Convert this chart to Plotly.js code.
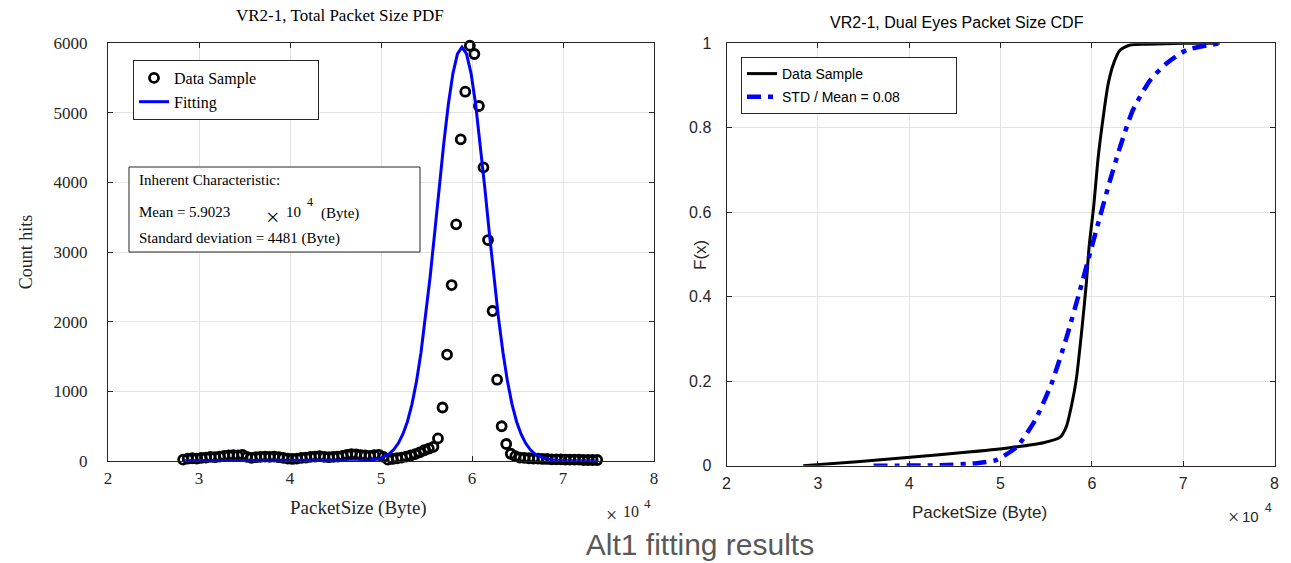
<!DOCTYPE html>
<html>
<head>
<meta charset="utf-8">
<script src="https://cdn.plot.ly/plotly-3.0.1.min.js"></script>
<style>html,body{margin:0;padding:0;background:#fff;}#chart{width:1291px;height:563px;}</style>
</head>
<body>
<div id="chart"></div>
<script>
// ---- PDF data sample (bin centres, x10^4 Byte) ----
const pdfX = [2.826,2.876,2.926,2.976,3.026,3.076,3.126,3.176,3.226,3.276,3.326,3.376,3.426,3.476,3.526,3.576,3.626,3.676,3.726,3.776,3.826,3.876,3.926,3.976,4.026,4.076,4.126,4.176,4.226,4.276,4.326,4.376,4.426,4.476,4.526,4.576,4.626,4.676,4.726,4.776,4.826,4.876,4.926,4.976,5.026,5.076,5.126,5.176,5.226,5.276,5.326,5.376,5.426,5.476,5.526,5.576,5.626,5.676,5.726,5.776,5.826,5.876,5.926,5.976,6.026,6.076,6.126,6.176,6.226,6.276,6.326,6.376,6.426,6.476,6.526,6.576,6.626,6.676,6.726,6.776,6.826,6.876,6.926,6.976,7.026,7.076,7.126,7.176,7.226,7.276,7.326,7.376];
const pdfCount = [15,30,35,30,40,45,55,50,60,70,75,80,75,85,55,40,50,55,60,55,60,50,40,30,25,30,40,45,55,60,65,55,50,55,60,70,85,95,90,80,75,70,80,85,55,15,25,35,45,60,75,95,120,150,175,200,320,765,1525,2525,3398,4620,5304,5965,5846,5099,4217,3172,2152,1164,495,240,100,65,45,40,35,30,30,25,25,20,20,20,15,15,15,15,10,10,10,10];

// ---- PDF fitting curve ----
const fitX = [2.83,3.5,4.0,4.5,4.79,4.89,4.99,5.09,5.14,5.19,5.24,5.29,5.34,5.39,5.44,5.49,5.54,5.59,5.64,5.69,5.74,5.79,5.84,5.89,5.94,5.99,6.04,6.09,6.14,6.19,6.24,6.29,6.34,6.39,6.44,6.49,6.54,6.59,6.64,6.69,6.79,6.89,6.99,7.2,7.38];
const fitY = [0,0,0,0,3,10,35,100,160,250,380,560,810,1140,1560,2064,2645,3279,3933,4563,5124,5565,5848,5945,5848,5565,5124,4563,3933,3279,2645,2064,1560,1140,810,560,380,250,160,100,35,10,3,0,0];

// ---- CDF data sample ----
const cdfX = [2.84,3.43,4.01,4.59,5.10,5.47,5.65,5.72,5.78,5.83,5.89,5.94,5.97,6.02,6.07,6.13,6.18,6.24,6.31,6.42,6.6,7.0,7.4];
const cdfY = [0,0.0095,0.02,0.031,0.0426,0.0545,0.067,0.092,0.145,0.205,0.321,0.432,0.518,0.613,0.731,0.834,0.905,0.953,0.984,0.996,0.998,1.0,1.0];

// ---- CDF fit (STD/Mean = 0.08) ----
const cdfFitX = [3.61,4.34,4.74,4.96,5.18,5.38,5.56,5.725,5.871,5.98,6.09,6.2,6.31,6.45,6.64,6.82,7.04,7.40];
const cdfFitY = [0,0.001,0.006,0.014,0.045,0.108,0.195,0.305,0.416,0.503,0.59,0.676,0.755,0.842,0.913,0.953,0.984,1.0];

const xTicks = [2,3,4,5,6,7,8];
const yTicksL = [0,1000,2000,3000,4000,5000,6000];
const yTicksR = [0,0.2,0.4,0.6,0.8,1];
const yTickTextR = ['0','0.2','0.4','0.6','0.8','1'];

const W = 1291, H = 563;
const px = v => v / W;
const py = v => 1 - v / H;
const pad = n => '\u00a0'.repeat(n);

const serif = 'Liberation Serif, Times New Roman, serif';
const sans = 'Liberation Sans, Arial, sans-serif';
const axCol = '#262626';
const gridCol = '#e3e3e3';

const traces = [
  {x: pdfX, y: pdfCount, xaxis: 'x', yaxis: 'y', type: 'scatter', mode: 'markers', name: 'Data Sample' + pad(14),
   marker: {symbol: 'circle-open', size: 9, color: '#000', line: {width: 2.8, color: '#000'}},
   cliponaxis: false, legend: 'legend', legendgroup: 'a'},
  {x: fitX, y: fitY, xaxis: 'x', yaxis: 'y', type: 'scatter', mode: 'lines', name: 'Fitting',
   line: {color: '#0000ff', width: 3}, cliponaxis: false, legend: 'legend', legendgroup: 'b'},
  {x: cdfX, y: cdfY, xaxis: 'x2', yaxis: 'y2', type: 'scatter', mode: 'lines', name: 'Data Sample',
   line: {color: '#000', width: 3, shape: 'spline', smoothing: 0.6}, cliponaxis: false, legend: 'legend2', legendgroup: 'c'},
  {x: cdfFitX, y: cdfFitY, xaxis: 'x2', yaxis: 'y2', type: 'scatter', mode: 'lines', name: 'STD / Mean = 0.08' + pad(13),
   line: {color: '#0000ff', width: 4.5, dash: '14px,7px,5px,7px', shape: 'spline', smoothing: 0.6}, cliponaxis: false, legend: 'legend2', legendgroup: 'd'}
];

function axisBase(font) {
  return {ticks: 'inside', ticklen: 5, tickcolor: axCol, showline: true, linecolor: axCol, linewidth: 1,
    mirror: 'ticks', showgrid: true, gridcolor: gridCol, gridwidth: 1, zeroline: false,
    tickfont: font, fixedrange: true};
}

function note(text, x, y, font, extra) {
  return Object.assign({text: text, xref: 'paper', yref: 'paper', x: px(x), y: py(y), xanchor: 'center', yanchor: 'middle',
    showarrow: false, font: font}, extra || {});
}

const layout = {
  width: W, height: H,
  margin: {l: 0, r: 0, t: 0, b: 0},
  paper_bgcolor: '#fff', plot_bgcolor: '#fff',
  showlegend: true,
  title: {text: 'Alt1 fitting results', font: {family: sans, size: 30, color: '#595959'},
          x: 700 / W, xanchor: 'center', y: 1 - 544 / H, yanchor: 'middle', yref: 'container', xref: 'container'},
  xaxis: Object.assign(axisBase({family: serif, size: 17, color: axCol}), {
    domain: [px(108), px(654)], range: [2, 8], tickvals: xTicks, anchor: 'y', ticklabelstandoff: 2}),
  yaxis: Object.assign(axisBase({family: serif, size: 17, color: axCol}), {
    domain: [1 - 460.7 / H, 1 - 43.3 / H], range: [0, 6000], tickvals: yTicksL, anchor: 'x', ticklabelstandoff: 16,
    title: {text: 'Count hits', font: {family: serif, size: 18, color: axCol}, standoff: 16}}),
  xaxis2: Object.assign(axisBase({family: sans, size: 16, color: axCol}), {
    domain: [px(726.5), px(1274.5)], range: [2, 8], tickvals: xTicks, anchor: 'y2', ticklabelstandoff: 3}),
  yaxis2: Object.assign(axisBase({family: sans, size: 16, color: axCol}), {
    domain: [1 - 465.7 / H, 1 - 43.3 / H], range: [0, 1], tickvals: yTicksR, ticktext: yTickTextR, anchor: 'x2', ticklabelstandoff: 11}),
  legend: {x: px(133), y: py(60), xanchor: 'left', yanchor: 'top', bgcolor: '#fff', bordercolor: axCol, borderwidth: 1,
    font: {family: serif, size: 16, color: '#000'}, traceorder: 'grouped', tracegroupgap: 0},
  legend2: {x: px(741), y: py(57), xanchor: 'left', yanchor: 'top', bgcolor: '#fff', bordercolor: axCol, borderwidth: 1,
    font: {family: sans, size: 14, color: '#000'}, traceorder: 'grouped', tracegroupgap: 2},
  shapes: [
    {type: 'rect', xref: 'paper', yref: 'paper', x0: px(129), x1: px(420), y0: py(252), y1: py(167),
     line: {color: axCol, width: 1}, fillcolor: '#fff', layer: 'above', opacity: 1}
  ],
  annotations: [
    note('VR2-1, Total Packet Size PDF', 340, 15, {family: serif, size: 17, color: '#000'}),
    note('VR2-1, Dual Eyes Packet Size CDF', 957, 23, {family: sans, size: 16, color: '#000'}),
    note('Inherent Characteristic:', 137, 180, {family: serif, size: 15, color: '#000'}, {xanchor: 'left'}),
    note('Mean = 5.9023', 137, 212, {family: serif, size: 15, color: '#000'}, {xanchor: 'left'}),
    note('×', 273, 217, {family: serif, size: 24, color: '#000'}),
    note('10', 284, 212, {family: serif, size: 15, color: '#000'}, {xanchor: 'left'}),
    note('4', 310, 202, {family: serif, size: 12, color: '#000'}),
    note('(Byte)', 319, 213, {family: serif, size: 15, color: '#000'}, {xanchor: 'left'}),
    note('Standard deviation = 4481 (Byte)', 137, 238, {family: serif, size: 15, color: '#000'}, {xanchor: 'left'}),
    note('PacketSize (Byte)', 358, 508, {family: serif, size: 19, color: axCol}),
    note('PacketSize (Byte)', 979, 512, {family: sans, size: 17, color: axCol}),
    note('F(x)', 700, 255, {family: sans, size: 17, color: axCol}, {textangle: -90}),
    note('×', 611, 515, {family: serif, size: 20, color: axCol}),
    note('10', 621, 511, {family: serif, size: 16, color: axCol}, {xanchor: 'left'}),
    note('4', 647, 503, {family: serif, size: 13, color: axCol}),
    note('×', 1233, 517, {family: serif, size: 20, color: axCol}),
    note('10', 1240, 516, {family: sans, size: 15, color: axCol}, {xanchor: 'left'}),
    note('4', 1268, 508, {family: sans, size: 12, color: axCol})
  ]
};

Plotly.newPlot('chart', traces, layout, {displayModeBar: false, staticPlot: true});
</script>
</body>
</html>
